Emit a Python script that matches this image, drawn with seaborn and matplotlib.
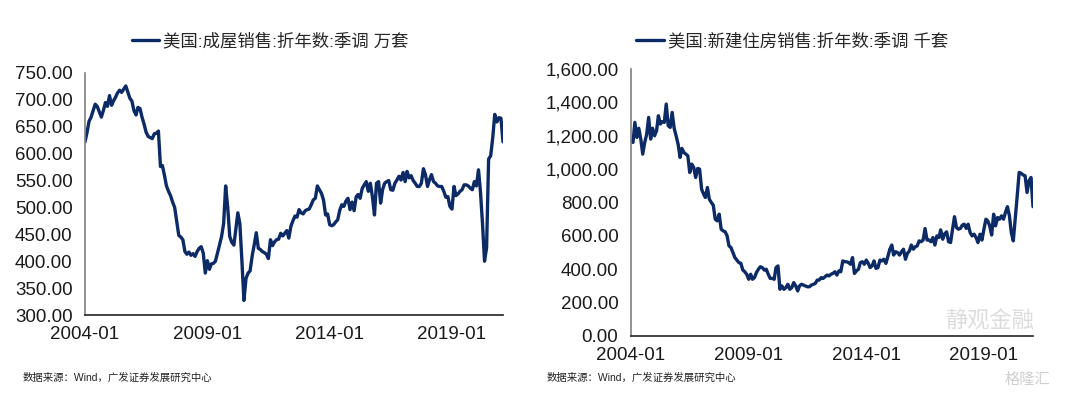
import pandas as pd
import numpy as np
import matplotlib.pyplot as plt
import matplotlib.ticker as mticker
import seaborn as sns

sns.set_theme(style='white')
plt.rcParams['font.family'] = ['Liberation Sans', 'Noto Sans CJK SC']

# monthly, 2004-01 .. 2021-02
months = pd.date_range('2004-01-01', '2021-02-01', freq='MS')

# 美国:成屋销售:折年数:季调 (万套)
existing_sales = [
    622, 640, 660, 668, 680, 692, 688, 678, 668, 680, 695, 688,
    708, 690, 698, 705, 713, 718, 714, 720, 726, 715, 703, 698,
    680, 672, 686, 684, 668, 655, 640, 632, 630, 628, 637, 638,
    642, 576, 578, 560, 540, 530, 522, 510, 500, 475, 448, 445,
    440, 418, 413, 417, 411, 414, 409, 418, 424, 427, 415, 378,
    401, 385, 395, 396, 400, 415, 430, 446, 470, 540, 500, 446,
    435, 430, 458, 490, 470, 400, 327, 368, 378, 382, 410, 430,
    453, 424, 422, 418, 416, 413, 405, 440, 429, 436, 440, 441,
    452, 447, 452, 457, 443, 465, 475, 484, 482, 496, 490, 488,
    494, 496, 497, 505, 514, 517, 540, 533, 526, 514, 486, 488,
    468, 466, 468, 473, 477, 495, 505, 502, 512, 517, 496, 510,
    494, 520, 524, 517, 535, 542, 548, 530, 545, 520, 486, 545,
    548, 508, 533, 545, 548, 550, 533, 532, 545, 551, 558, 551,
    565, 548, 567, 555, 559, 550, 545, 539, 539, 545, 572, 561,
    539, 552, 561, 548, 545, 540, 539, 539, 530, 519, 520, 502,
    497, 539, 522, 525, 530, 533, 542, 542, 540, 536, 533, 548,
    540, 570, 530, 470, 400, 425, 590, 596, 630, 673, 659, 667,
    666, 622,
]

# 美国:新建住房销售:折年数:季调 (千套)
new_sales = [
    1170, 1160, 1280, 1190, 1245, 1180, 1090, 1160, 1210, 1310, 1180, 1245,
    1200, 1230, 1320, 1270, 1285, 1280, 1390, 1260, 1250, 1340, 1245, 1200,
    1150, 1070, 1124, 1100, 1090, 1080, 980, 1030, 1010, 950, 1004, 1000,
    880, 850, 830, 890, 820, 800, 784, 700, 690, 730, 640, 630,
    625, 600, 540, 530, 500, 470, 455, 440, 436, 396, 385, 370,
    340, 370, 340, 350, 380, 400, 415, 410, 395, 400, 370, 345,
    345, 340, 410, 420, 280, 300, 280, 290, 310, 280, 290, 320,
    300, 270, 300, 310, 305, 300, 295, 295, 305, 310, 315, 335,
    335, 350, 345, 355, 365, 360, 370, 375, 385, 365, 390, 385,
    450, 445, 445, 440, 430, 470, 375, 390, 400, 440, 445, 430,
    455, 435, 410, 420, 450, 405, 410, 455, 450, 460, 435, 475,
    520, 545, 485, 505, 500, 485, 505, 520, 460, 495, 510, 545,
    520, 535, 540, 570, 565, 575, 644, 575, 575, 565, 590, 545,
    600, 590, 636, 580, 612, 624, 565, 560, 640, 715, 650, 640,
    645, 665, 670, 645, 670, 620, 600, 610, 590, 560, 610, 575,
    640, 700, 690, 660, 605, 730, 660, 710, 700, 720, 700, 740,
    775, 720, 620, 570, 700, 840, 980, 975, 965, 960, 860, 930,
    950, 775,
]

tick_labels = ['2004-01', '2009-01', '2014-01', '2019-01']
left_title = '美国:成屋销售:折年数:季调 万套'
right_title = '美国:新建住房销售:折年数:季调 千套'
source = '数据来源：Wind，广发证券发展研究中心'

df = pd.DataFrame({'month': months, 'existing': existing_sales, 'new': new_sales})

navy = '#0b2a66'
W, H = 1080, 396
fig = plt.figure(figsize=(W / 100, H / 100), dpi=100)
ax1 = fig.add_axes([85 / W, 1 - 315 / H, 418 / W, 242 / H])
ax2 = fig.add_axes([631 / W, 1 - 336 / H, 402 / W, 267 / H])


def style_axis(ax, yticks, fmt):
    ax.set_xlim(months[0], months[-1])
    ax.set_xticks(pd.to_datetime(tick_labels))
    ax.set_xticklabels(tick_labels)
    ax.set_yticks(yticks)
    ax.set_ylim(yticks[0], yticks[-1])
    ax.yaxis.set_major_formatter(mticker.StrMethodFormatter(fmt))
    ax.set_xlabel('')
    ax.set_ylabel('')
    for s in ['top', 'right']:
        ax.spines[s].set_visible(False)
    ax.spines['left'].set_color('#7f7f7f')
    ax.spines['left'].set_linewidth(1.2)
    ax.spines['bottom'].set_color('#222222')
    ax.spines['bottom'].set_linewidth(1.2)
    ax.tick_params(axis='both', direction='out', length=5, width=1,
                   color='#555555', labelsize=13.5, labelcolor='#1a1a1a', pad=3)
    ax.tick_params(axis='y', pad=4)
    ax.grid(False)
    if ax.get_legend():
        ax.get_legend().remove()


sns.lineplot(data=df, x='month', y='existing', ax=ax1, color=navy, linewidth=2.4,
             label=left_title)
style_axis(ax1, np.arange(300, 751, 50), '{x:,.2f}')

sns.lineplot(data=df, x='month', y='new', ax=ax2, color=navy, linewidth=2.4,
             label=right_title)
style_axis(ax2, np.arange(0, 1601, 200), '{x:,.2f}')

for ax, cx in [(ax1, 270), (ax2, 792)]:
    h, l = ax.get_legend_handles_labels()
    ax.legend(h, l, loc='center', bbox_to_anchor=(cx / W, 1 - 41 / H),
              bbox_transform=fig.transFigure, frameon=False, fontsize=12.5,
              handlelength=1.6, handletextpad=0.2, borderpad=0)

fig.text(23 / W, 1 - 378 / H, source, fontsize=7.5, va='center', color='#222222')
fig.text(547 / W, 1 - 378 / H, source, fontsize=7.5, va='center', color='#222222')

# watermarks
fig.text(945 / W, 1 - 322 / H, '静观金融', fontsize=16, va='center', color='#dcdcdc')
fig.text(1005 / W, 1 - 380 / H, '格隆汇', fontsize=11, va='center', color='#cfcfcf')

fig.savefig('out.png', dpi=100)
